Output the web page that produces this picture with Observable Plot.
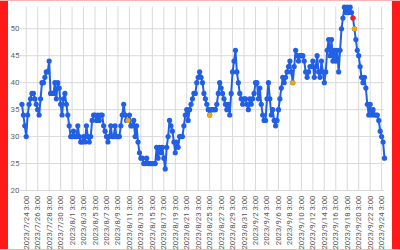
<!DOCTYPE html>
<html>
<head>
<meta charset="utf-8">
<script src="https://cdn.jsdelivr.net/npm/d3@7"></script>
<script src="https://cdn.jsdelivr.net/npm/@observablehq/plot@0.6"></script>
<style>
  html, body { margin: 0; padding: 0; background: #fff; }
  #wrap { position: relative; width: 400px; height: 250px; overflow: hidden; }
  #chart { position: absolute; left: 0; top: 0; }
  .bar { position: absolute; background: #ff1a1a; }
  .line { position: absolute; background: #f7b5b5; }
</style>
</head>
<body>
<div id="wrap">
  <div id="chart"></div>
  <div class="bar" style="left:0;top:0;width:8px;height:250px"></div>
  <div class="bar" style="left:392px;top:0;width:8px;height:250px"></div>
  <div class="line" style="left:0;top:0;width:400px;height:1px"></div>
  <div class="line" style="left:0;top:249px;width:400px;height:1px"></div>
</div>
<script>
// ---- data ----
const startTime = "2023/7/23 9:00";   // first reading
const stepHours = 6;                   // one reading every 6 hours
const values = [
  36,34,32,30,34,36,37,38,38,37,
  36,35,34,37,40,40,41,42,42,44,
  38,38,38,40,37,40,39,36,34,37,
  38,36,34,32,30,30,31,30,30,32,
  30,29,29,30,29,32,30,29,30,33,
  34,34,33,34,33,34,34,32,31,30,
  29,30,32,30,30,32,30,30,30,32,
  34,36,34,33,33,34,32,32,33,30,
  32,29,27,26,26,25,25,26,25,25,
  25,25,25,25,28,26,28,27,28,26,
  24,28,30,33,32,31,29,27,29,28,
  30,30,30,32,34,35,33,35,36,37,
  38,38,40,41,42,41,40,38,37,36,
  35,34,35,35,35,35,36,38,40,39,
  38,37,36,35,36,34,38,42,44,46,
  42,40,38,37,36,37,37,36,35,37,
  36,37,38,40,40,37,39,36,34,33,
  33,37,40,37,34,35,33,32,33,35,
  37,39,41,40,41,42,43,44,42,40,
  43,46,45,44,45,45,45,44,42,41,
  42,43,43,44,41,43,45,42,41,44,
  42,40,42,46,48,45,48,44,46,44,
  46,42,46,50,52,54,53,54,53,54,
  53,52,50,48,46,45,43,41,40,41,
  39,36,34,36,34,35,34,34,34,33,
  31,30,29,26
];
const orangeTimes = ["2023/8/10 21:00", "2023/8/25 3:00", "2023/9/8 15:00", "2023/9/19 9:00"];
const orangeValues = [33, 34, 40, 50];
const redTimes = ["2023/9/19 3:00"];
const redValues = [52];
const tickLabels = [
  "2023/7/24 3:00","2023/7/26 3:00","2023/7/28 3:00","2023/7/30 3:00",
  "2023/8/1 3:00","2023/8/3 3:00","2023/8/5 3:00","2023/8/7 3:00",
  "2023/8/9 3:00","2023/8/11 3:00","2023/8/13 3:00","2023/8/15 3:00",
  "2023/8/17 3:00","2023/8/19 3:00","2023/8/21 3:00","2023/8/23 3:00",
  "2023/8/25 3:00","2023/8/27 3:00","2023/8/29 3:00","2023/8/31 3:00",
  "2023/9/2 3:00","2023/9/4 3:00","2023/9/6 3:00","2023/9/8 3:00",
  "2023/9/10 3:00","2023/9/12 3:00","2023/9/14 3:00","2023/9/16 3:00",
  "2023/9/18 3:00","2023/9/20 3:00","2023/9/22 3:00","2023/9/24 3:00"
];
const yTicks = [20, 25, 30, 35, 40, 45, 50];

// ---- build ----
const parse = s => {
  const [dp, tp] = s.split(" ");
  const [y, m, d] = dp.split("/").map(Number);
  const [h, mi] = tp.split(":").map(Number);
  return new Date(y, m - 1, d, h, mi);
};
const t0 = parse(startTime).getTime();
const data = values.map((v, i) => ({t: new Date(t0 + i * stepHours * 3600e3), v}));
const orange = orangeTimes.map((s, i) => ({t: parse(s), v: orangeValues[i]}));
const red = redTimes.map((s, i) => ({t: parse(s), v: redValues[i]}));
const tickDates = tickLabels.map(parse);
const labelMap = new Map(tickDates.map((d, i) => [+d, tickLabels[i]]));

const blue = "#2160e6";
const grid = "#d9d9d9";

const chart = Plot.plot({
  width: 400,
  height: 250,
  marginLeft: 20,
  marginRight: 16,
  marginTop: 6.7,
  marginBottom: 60,
  style: {fontFamily: "Roboto, Arial, sans-serif", background: "transparent"},
  x: {type: "time", domain: [parse("2023/7/23 3:00"), parse("2023/9/24 15:00")]},
  y: {domain: [20, 54]},
  marks: [
    Plot.gridY(yTicks, {stroke: grid, strokeOpacity: 1, strokeWidth: 1}),
    Plot.gridX(tickDates, {stroke: grid, strokeOpacity: 1, strokeWidth: 1}),
    Plot.axisY(yTicks, {tickSize: 0, tickPadding: 1, fontSize: 8, fill: "#666", label: null}),
    Plot.axisX(tickDates, {
      tickSize: 0, tickPadding: 5, tickRotate: -90, fontSize: 7.8, fill: "#555",
      label: null, tickFormat: d => labelMap.get(+d)
    }),
    Plot.line(data, {x: "t", y: "v", stroke: blue, strokeWidth: 2}),
    Plot.dot(data, {x: "t", y: "v", r: 2.6, fill: blue, stroke: "none"}),
    Plot.dot(orange, {x: "t", y: "v", r: 2.5, fill: "#f4a900", stroke: "none"}),
    Plot.dot(red, {x: "t", y: "v", r: 2.5, fill: "#ff1a1a", stroke: "none"})
  ]
});
document.getElementById("chart").appendChild(chart);
</script>
</body>
</html>
